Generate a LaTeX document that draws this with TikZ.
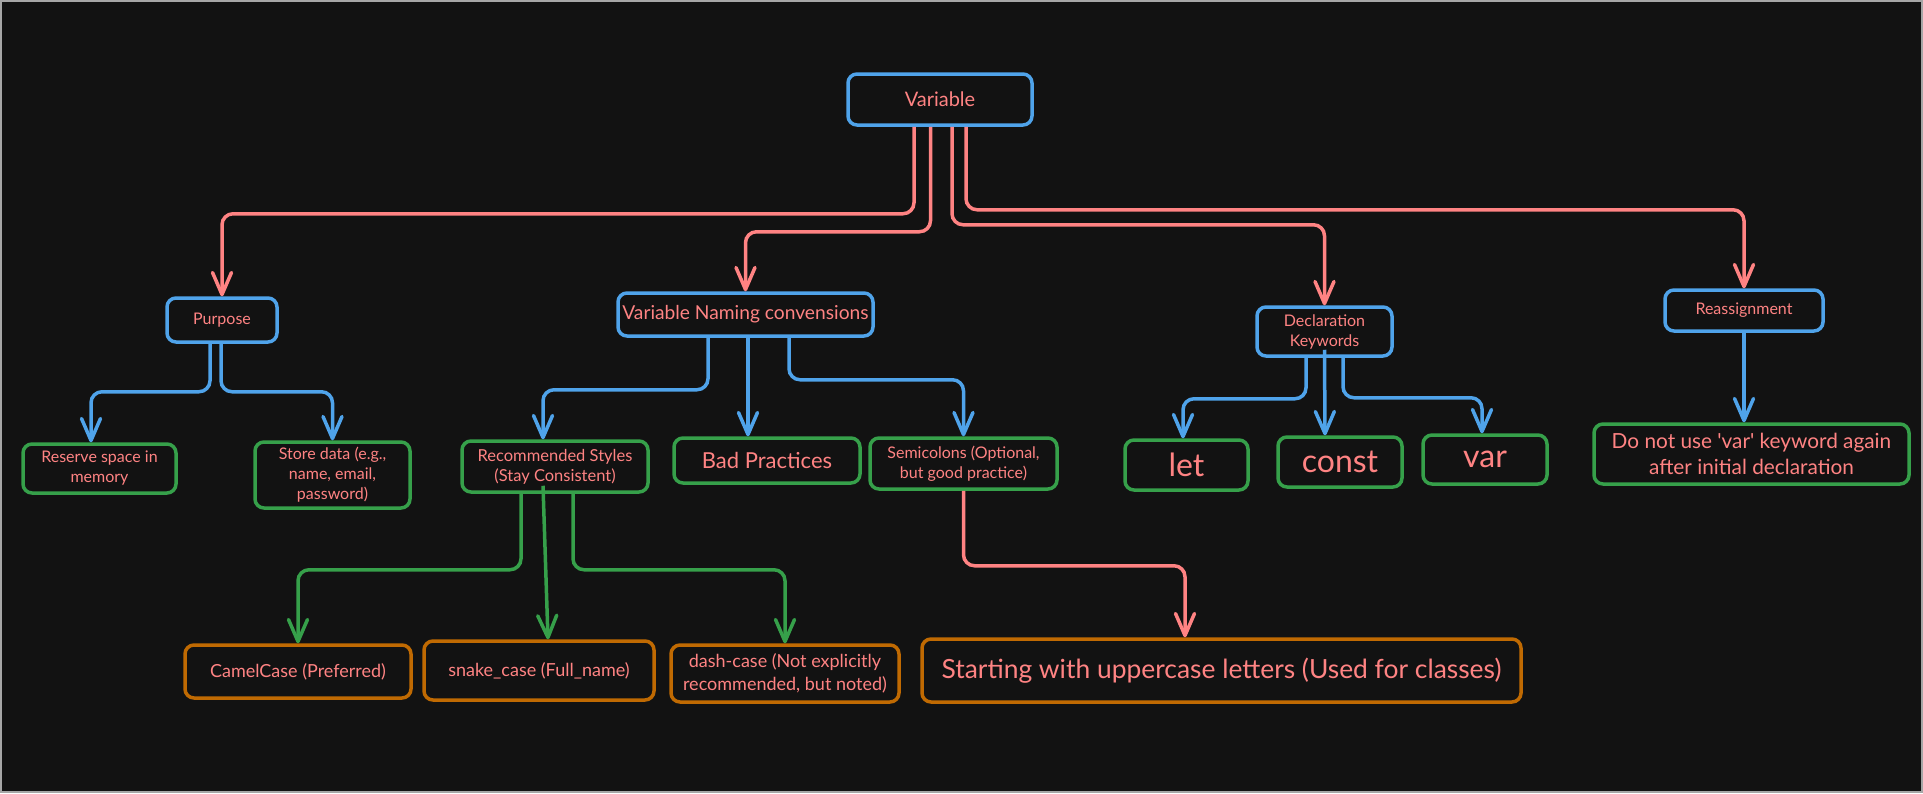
\documentclass[tikz,border=0pt]{standalone}
\usepackage{fontspec}
\setmainfont{Lato}
\usetikzlibrary{arrows.meta}

\definecolor{bgdark}{HTML}{121212}
\definecolor{salmon}{HTML}{FF8383}
\definecolor{skyblue}{HTML}{4FA3EA}
\definecolor{leafgreen}{HTML}{36A04A}
\definecolor{amber}{HTML}{C06A02}

\begin{document}
\begin{tikzpicture}[x=1pt, y=-1pt,
    box/.style={draw, line width=3.5pt, rounded corners=9pt, fill=bgdark,
        text=salmon, align=center, inner sep=0pt},
    bluebox/.style={box, draw=skyblue},
    greenbox/.style={box, draw=leafgreen},
    orangebox/.style={box, draw=amber},
    fsmall/.style={font=\fontsize{16}{20}\selectfont},
    fmid/.style={font=\fontsize{18}{23}\selectfont},
    fbig/.style={font=\fontsize{20}{26}\selectfont},
    link/.style={line width=3.5pt, rounded corners=11pt,
        -{Straight Barb[length=22pt, width=19pt, round]}},
    pinklink/.style={link, draw=salmon},
    bluelink/.style={link, draw=skyblue},
    greenlink/.style={link, draw=leafgreen},
]

    % 背景与边框
    \fill[bgdark] (0,0) rectangle (1923,793);
    \draw[line width=2pt, gray!70] (1,1) rectangle (1922,792);

    % 第一层
    \node[bluebox, fbig, minimum width=184pt, minimum height=51pt] (var) at (940,99.5) {Variable};

    % 第二层
    \node[bluebox, fsmall, minimum width=110pt, minimum height=44pt] (purpose) at (222,320) {Purpose};
    \node[bluebox, font=\fontsize{19.2}{24}\selectfont, minimum width=255pt, minimum height=43pt] (naming) at (745.5,314.5) {Variable Naming convensions};
    \node[bluebox, fsmall, minimum width=135pt, minimum height=49pt] (decl) at (1324.5,331.5) {Declaration\\Keywords};
    \node[bluebox, fsmall, minimum width=158pt, minimum height=41pt] (reass) at (1744,310.5) {Reassignment};

    % 第三层
    \node[greenbox, fsmall, minimum width=153pt, minimum height=49pt] (reserve) at (99.5,468.5) {Reserve space in\\memory};
    \node[greenbox, fsmall, minimum width=155pt, minimum height=66pt] (store) at (332.5,475) {Store data (e.g.,\\name, email,\\password)};
    \node[greenbox, font=\fontsize{16.5}{20}\selectfont, minimum width=186pt, minimum height=51pt] (recom) at (555,466.5) {Recommended Styles\\(Stay Consistent)};
    \node[greenbox, font=\fontsize{22}{26}\selectfont, minimum width=186pt, minimum height=45pt] (bad) at (767,460.5) {Bad Practices};
    \node[greenbox, fsmall, minimum width=187pt, minimum height=51pt] (semi) at (963.5,463.5) {Semicolons (Optional,\\but good practice)};
    \node[greenbox, font=\fontsize{32}{36}\selectfont, minimum width=123pt, minimum height=50pt] (let) at (1186.5,465) {let};
    \node[greenbox, font=\fontsize{32}{36}\selectfont, minimum width=124pt, minimum height=50pt] (const) at (1340,462) {const};
    \node[greenbox, font=\fontsize{32}{36}\selectfont, minimum width=124pt, minimum height=49pt] (varkw) at (1485,459.5) {var};
    \node[greenbox, font=\fontsize{20.8}{26}\selectfont, minimum width=315pt, minimum height=60pt] (noreass) at (1751.5,454) {Do not use \textquotesingle var\textquotesingle\ keyword again\\after initial declaration};

    % 第四层
    \node[orangebox, fmid, minimum width=226pt, minimum height=53pt] (camel) at (298,671.5) {CamelCase (Preferred)};
    \node[orangebox, fmid, minimum width=230pt, minimum height=59pt] (snake) at (539,670.5) {snake\_case (Full\_name)};
    \node[orangebox, fmid, minimum width=228pt, minimum height=57pt] (dash) at (785,673.5) {dash-case (Not explicitly\\recommended, but noted)};
    \node[orangebox, font=\fontsize{26.4}{30}\selectfont, minimum width=599pt, minimum height=63pt] (start) at (1221.5,670.5) {Starting with uppercase letters (Used for classes)};

    % Variable 的连线
    \draw[pinklink] ([xshift=-26pt]var.south) -- ++(0,87) -| (purpose.north);
    \draw[pinklink] ([xshift=-9.5pt]var.south) -- ++(0,105) -| (naming.north);
    \draw[pinklink] ([xshift=12pt]var.south) -- ++(0,98) -| (decl.north);
    \draw[pinklink] ([xshift=26pt]var.south) -- ++(0,83) -| (reass.north);

    % Purpose 的连线
    \draw[bluelink] ([xshift=-12pt]purpose.south) -- ++(0,48) -| ([xshift=-8.5pt]reserve.north);
    \draw[bluelink] ([xshift=-1pt]purpose.south) -- ++(0,48) -| (store.north);

    % Naming 的连线
    \draw[bluelink] ([xshift=-37.5pt]naming.south) -- ++(0,52) -| ([xshift=-12pt]recom.north);
    \draw[bluelink] ([xshift=2.5pt]naming.south) -- ([xshift=-19pt]bad.north);
    \draw[bluelink] ([xshift=43.5pt]naming.south) -- ++(0,42) -| (semi.north);

    % Declaration 的连线
    \draw[bluelink] ([xshift=-18.5pt]decl.south) -- ++(0,41) -| ([xshift=-3.5pt]let.north);
    \draw[bluelink] ([yshift=8pt]decl.south) -- ([xshift=-15pt]const.north);
    \draw[bluelink] ([xshift=18.5pt]decl.south) -- ++(0,40) -| ([xshift=-3pt]varkw.north);

    % Reassignment 的连线
    \draw[bluelink] (reass.south) -- (reass.south |- noreass.north);

    % Recommended Styles 的连线
    \draw[greenlink] ([xshift=-34pt]recom.south) -- ++(0,76) -| (camel.north);
    \draw[greenlink] ([xshift=-12pt, yshift=8pt]recom.south) -- ([xshift=9pt]snake.north);
    \draw[greenlink] ([xshift=18pt]recom.south) -- ++(0,76) -| (dash.north);

    % Semicolons 的连线
    \draw[pinklink] (semi.south) -- ++(0,75) -| ([xshift=-36.5pt]start.north);

\end{tikzpicture}
\end{document}
